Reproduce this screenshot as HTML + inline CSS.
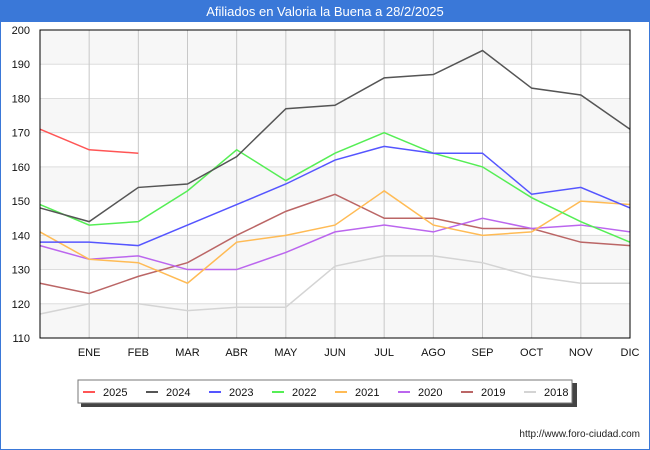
<!DOCTYPE html>
<html><head><meta charset="utf-8"><style>
body{margin:0;width:650px;height:450px;overflow:hidden;font-family:"Liberation Sans","DejaVu Sans",sans-serif;background:#fff}
</style></head><body>
<svg width="650" height="450" style="display:block">
<rect x="0.5" y="0.5" width="649" height="449" fill="#fff" stroke="#3a78d8"/>
<rect x="0" y="0" width="650" height="22" fill="#3a78d8"/>
<text x="325" y="16" text-anchor="middle" fill="#fff" font-size="13">Afiliados en Valoria la Buena a 28/2/2025</text>
<g id="plot"></g>
<text x="640" y="437" text-anchor="end" font-size="10" fill="#222">http://www.foro-ciudad.com</text>
</svg>
<script>
const months=["","ENE","FEB","MAR","ABR","MAY","JUN","JUL","AGO","SEP","OCT","NOV","DIC"];
const yTicks=[110,120,130,140,150,160,170,180,190,200];
const years=["2025","2024","2023","2022","2021","2020","2019","2018"];
const colors=["#ff5555","#555555","#5555ff","#55ee55","#ffbb55","#bb66ee","#bb6666","#d4d4d4"];
const s2025=[171,165,164];
const s2024=[148,144,154,155,163,177,178,186,187,194,183,181,171];
const s2023=[138,138,137,143,149,155,162,166,164,164,152,154,148];
const s2022=[149,143,144,153,165,156,164,170,164,160,151,144,138];
const s2021=[141,133,132,126,138,140,143,153,143,140,141,150,149];
const s2020=[137,133,134,130,130,135,141,143,141,145,142,143,141];
const s2019=[126,123,128,132,140,147,152,145,145,142,142,138,137];
const s2018=[117,120,120,118,119,119,131,134,134,132,128,126,126];
const series=[s2025,s2024,s2023,s2022,s2021,s2020,s2019,s2018];
const L=40,R=630,T=30,B=338,yMin=110,yMax=200;
const xs=i=>L+i*(R-L)/12;
const ys=v=>B-(v-yMin)*(B-T)/(yMax-yMin);
const NS="http://www.w3.org/2000/svg";
const g=document.getElementById('plot');
function mk(t,a,p){const e=document.createElementNS(NS,t);for(const k in a)e.setAttribute(k,a[k]);(p||g).appendChild(e);return e;}
for(let i=0;i<yTicks.length-1;i++){
 if(i%2===0){const r=mk('rect',{x:L,y:ys(yTicks[i+1]),width:R-L,height:ys(yTicks[i])-ys(yTicks[i+1]),fill:'#f7f7f7'});
 
 }
}
yTicks.forEach(v=>{
 const l=mk('line',{x1:L,x2:R,y1:ys(v),y2:ys(v),stroke:'#dddddd'});
 
 
 const t=mk('text',{x:L-10,y:ys(v)+4,'text-anchor':'end','font-size':11,fill:'#111'});t.textContent=v;
 
 
});
months.forEach((m,i)=>{
 if(i===0)return;
 const l=mk('line',{x1:xs(i),x2:xs(i),y1:T,y2:B,stroke:'#c8c8c8'});
 
 
 const t=mk('text',{x:xs(i),y:356,'text-anchor':'middle','font-size':11,fill:'#111'});t.textContent=m;
 
 
});
for(let k=series.length-1;k>=0;k--){
 const d=series[k].map((v,i)=>(i?'L':'M')+xs(i)+','+ys(v)).join('');
 const p=mk('path',{d:d,fill:'none',stroke:colors[k],'stroke-width':1.5});
 
 
}
const fr=mk('rect',{x:L,y:T,width:R-L,height:B-T,fill:'none',stroke:'#000','stroke-width':1});


const lg=mk('g',{});


mk('rect',{x:81,y:383,width:496,height:24,fill:'#444'},lg);
mk('rect',{x:78,y:380,width:494,height:23,fill:'#fff',stroke:'#777'},lg);
years.forEach((y,k)=>{
 const x=83+k*63;
 const sw=mk('line',{x1:x,x2:x+12,y1:392,y2:392,stroke:colors[k],'stroke-width':2},lg);
 
 
 const t=mk('text',{x:x+20,y:396,'font-size':11,fill:'#111'},lg);t.textContent=y;
 
 
});
</script>
</body></html>
